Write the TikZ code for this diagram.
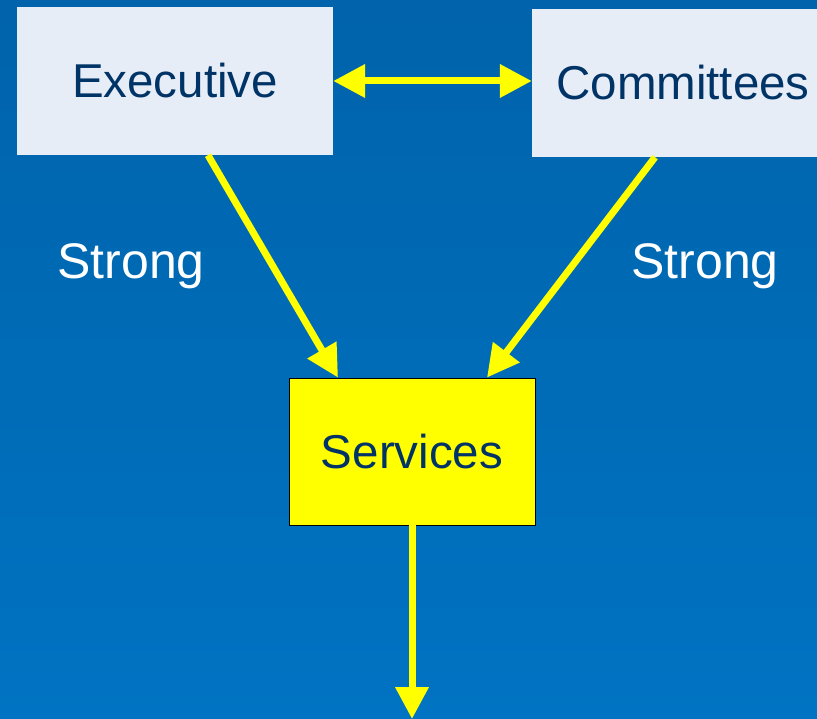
\documentclass[tikz,border=0pt]{standalone}
\usepackage{fontspec}
\setmainfont{Liberation Sans}
\usetikzlibrary{arrows.meta,calc}
\definecolor{bgtop}{RGB}{0,99,171}
\definecolor{bgbot}{RGB}{0,115,194}
\definecolor{boxfill}{RGB}{230,237,247}
\definecolor{navy}{RGB}{0,51,102}
\definecolor{yel}{RGB}{255,255,0}
\tikzset{
  box/.style={rectangle, fill=boxfill, inner sep=0pt, text=navy,
    font=\fontsize{47.5}{50}\selectfont, text height=34pt, text depth=0pt},
  servbox/.style={box, fill=yel, draw=black, line width=0.8pt},
  lbl/.style={text=white, font=\fontsize{50}{52}\selectfont, inner sep=0pt, anchor=base},
  conn/.style={draw=yel, line width=7pt, -{Triangle[length=32pt,width=32pt]}},
  dconn/.style={draw=yel, line width=7pt, {Triangle[length=32pt,width=32pt]}-{Triangle[length=32pt,width=32pt]}}
}
\begin{document}
\begin{tikzpicture}[x=1pt,y=-1pt]
\useasboundingbox (0,0) rectangle (817,719);
\clip (0,0) rectangle (817,719);
\shade[top color=bgtop, bottom color=bgbot] (0,0) rectangle (817,719);
\node[box, minimum width=316pt, minimum height=148pt] (exec) at (175,81) {Executive};
\node[box, minimum width=302pt, minimum height=148pt] (comm) at (683,83) {Committees};
\node[servbox, minimum width=246pt, minimum height=147pt] (serv) at (412,451.5) {Services};
\node[lbl] (s1) at (131,279) {Strong};
\node[lbl] (s2) at (705,279) {Strong};
\coordinate (bottom) at (412,719);
\draw[dconn] (exec.east) -- (exec.east -| comm.west);
\draw[conn] ([xshift=33pt]exec.south) -- ([xshift=-74pt]serv.north);
\draw[conn] ([xshift=-28pt]comm.south) -- ([xshift=75pt]serv.north);
\draw[conn] (serv.south) -- (bottom);
\end{tikzpicture}
\end{document}
